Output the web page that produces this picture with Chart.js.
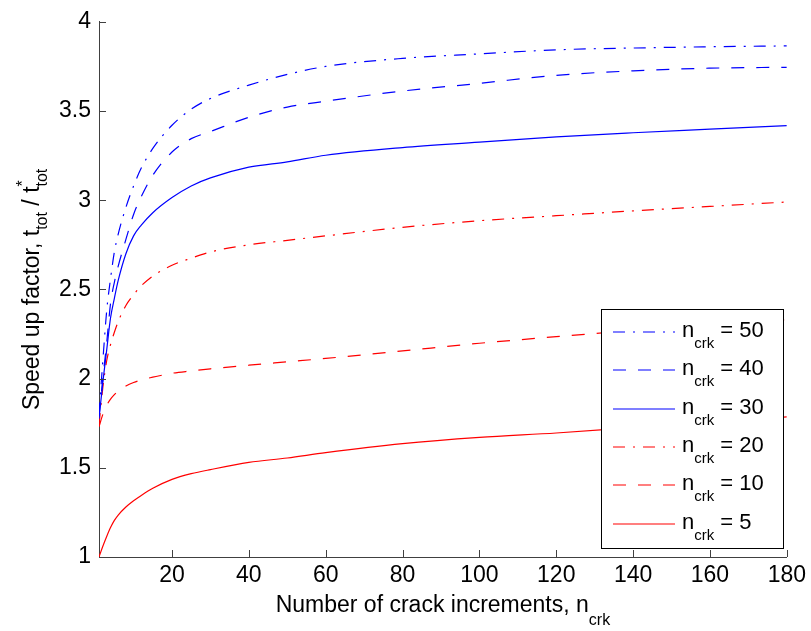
<!DOCTYPE html>
<html>
<head>
<meta charset="utf-8">
<script src="https://cdn.jsdelivr.net/npm/chart.js@4.4.1/dist/chart.umd.min.js"></script>
<style>
  body { margin: 0; background: #fff; }
  canvas { display: block; }
</style>
</head>
<body>
<canvas id="myChart" width="811" height="631"></canvas>
<script>
// data
const xVals = [1, 2, 3, 4, 5, 6, 8, 10, 12, 15, 20, 25, 30, 40, 50, 60, 80, 100, 120, 140, 160, 180];
const crk50 = [1.80, 2.10, 2.38, 2.56, 2.71, 2.81, 2.96, 3.08, 3.18, 3.29, 3.42, 3.51, 3.57, 3.645, 3.705, 3.75, 3.795, 3.82, 3.843, 3.853, 3.86, 3.865];
const crk40 = [1.79, 2.00, 2.20, 2.42, 2.54, 2.63, 2.78, 2.92, 3.02, 3.14, 3.27, 3.345, 3.385, 3.465, 3.522, 3.555, 3.612, 3.655, 3.70, 3.725, 3.74, 3.745];
const crk30 = [1.775, 1.98, 2.16, 2.34, 2.45, 2.55, 2.70, 2.80, 2.86, 2.93, 3.015, 3.08, 3.125, 3.185, 3.215, 3.252, 3.295, 3.325, 3.355, 3.378, 3.398, 3.418];
const crk20 = [1.74, 1.95, 2.10, 2.19, 2.26, 2.32, 2.41, 2.47, 2.52, 2.575, 2.635, 2.675, 2.71, 2.75, 2.775, 2.80, 2.848, 2.885, 2.913, 2.94, 2.965, 2.99];
const crk10 = [1.73, 1.80, 1.85, 1.885, 1.91, 1.93, 1.958, 1.978, 1.993, 2.008, 2.03, 2.043, 2.055, 2.075, 2.094, 2.113, 2.155, 2.198, 2.235, 2.27, 2.30, 2.33];
const crk5 = [1.0, 1.06, 1.115, 1.165, 1.205, 1.235, 1.28, 1.315, 1.345, 1.385, 1.435, 1.467, 1.49, 1.53, 1.555, 1.585, 1.635, 1.67, 1.695, 1.725, 1.755, 1.785];
const seriesNames = ['50', '40', '30', '20', '10', '5'];
const xTicks = [20, 40, 60, 80, 100, 120, 140, 160, 180];
const yTicks = [1, 1.5, 2, 2.5, 3, 3.5, 4];

const FONT = "'Liberation Sans', Arial, sans-serif";
const BLUE = '#0000ff';
const RED = '#ff0000';
const DASH = [13, 12];
const DASHDOT = [12, 8, 2, 8];
const seriesColors = [BLUE, BLUE, BLUE, RED, RED, RED];
const seriesDash = [DASHDOT, DASH, [], DASHDOT, DASH, []];

function toPoints(ys) {
  return xVals.map((x, i) => ({ x: x, y: ys[i] }));
}

function makeSet(i, ys) {
  return {
    label: seriesNames[i],
    data: toPoints(ys),
    borderColor: seriesColors[i],
    backgroundColor: seriesColors[i],
    borderWidth: 1.2,
    borderDash: seriesDash[i],
    pointRadius: 0,
    cubicInterpolationMode: 'monotone',
    fill: false
  };
}

// ticks inside the axes, axis titles with subscripts, and the legend box
const extras = {
  id: 'extras',
  afterDraw(chart) {
    const ctx = chart.ctx;
    const xs = chart.scales.x, ys = chart.scales.y;
    const area = chart.chartArea;
    ctx.save();
    ctx.strokeStyle = '#404040';
    ctx.lineWidth = 1;
    ctx.beginPath();
    xTicks.forEach(v => {
      const px = Math.round(xs.getPixelForValue(v)) + 0.5;
      ctx.moveTo(px, area.bottom);
      ctx.lineTo(px, area.bottom - 7);
    });
    yTicks.forEach(v => {
      const py = Math.round(ys.getPixelForValue(v)) + 0.5;
      ctx.moveTo(area.left, py);
      ctx.lineTo(area.left + 7, py);
    });
    ctx.stroke();

    ctx.fillStyle = '#000';
    ctx.textBaseline = 'alphabetic';
    ctx.textAlign = 'left';

    // x title
    ctx.font = '23px ' + FONT;
    const xt = 'Number of crack increments, n';
    const w1 = ctx.measureText(xt).width;
    ctx.font = '16px ' + FONT;
    const w2 = ctx.measureText('crk').width;
    let sx = (area.left + area.right) / 2 - (w1 + w2) / 2;
    ctx.font = '23px ' + FONT;
    ctx.fillText(xt, sx, 612);
    ctx.font = '16px ' + FONT;
    ctx.fillText('crk', sx + w1, 625);

    // y title, rotated
    ctx.save();
    ctx.rotate(-Math.PI / 2);
    ctx.font = '23px ' + FONT;
    const p1 = 'Speed up factor, t', p2 = ' / t';
    const a = ctx.measureText(p1).width, c = ctx.measureText(p2).width;
    ctx.font = '16px ' + FONT;
    const b = ctx.measureText('tot').width;
    const total = a + b + c + b;
    let u = -((area.top + area.bottom) / 2) - total / 2;
    ctx.font = '23px ' + FONT;
    ctx.fillText(p1, u, 39);
    u += a;
    ctx.font = '16px ' + FONT;
    ctx.fillText('tot', u, 47);
    u += b;
    ctx.font = '23px ' + FONT;
    ctx.fillText(p2, u, 39);
    u += c;
    ctx.font = '16px ' + FONT;
    ctx.fillText('*', u, 28);
    ctx.fillText('tot', u, 47);
    ctx.restore();

    // legend
    const bx = 601, by = 309, bw = 182, bh = 239;
    ctx.fillStyle = '#fff';
    ctx.fillRect(bx, by, bw, bh);
    ctx.strokeStyle = '#000';
    ctx.lineWidth = 1;
    ctx.strokeRect(bx + 0.5, by + 0.5, bw, bh);
    seriesNames.forEach((name, i) => {
      const ry = Math.round(332 + i * 38.3);
      ctx.strokeStyle = seriesColors[i];
      ctx.lineWidth = 1.2;
      ctx.setLineDash(seriesDash[i]);
      ctx.beginPath();
      ctx.moveTo(613, ry);
      ctx.lineTo(675, ry);
      ctx.stroke();
      ctx.setLineDash([]);
      ctx.fillStyle = '#000';
      ctx.font = '22px ' + FONT;
      ctx.fillText('n', 682, ry + 5);
      const nw = ctx.measureText('n').width;
      ctx.font = '15px ' + FONT;
      ctx.fillText('crk', 682 + nw, ry + 16);
      const cw = ctx.measureText('crk').width;
      ctx.font = '22px ' + FONT;
      ctx.fillText(' = ' + name, 682 + nw + cw, ry + 5);
    });
    ctx.restore();
  }
};

var ctx = document.getElementById('myChart');
var chart = new Chart(ctx, {
  type: 'line',
  data: {
    datasets: [
      makeSet(0, crk50),
      makeSet(1, crk40),
      makeSet(2, crk30),
      makeSet(3, crk20),
      makeSet(4, crk10),
      makeSet(5, crk5)
    ]
  },
  options: {
    responsive: false,
    animation: false,
    devicePixelRatio: 1,
    layout: { padding: { left: 0, top: 14, right: 22, bottom: 0 } },
    plugins: { legend: { display: false }, tooltip: { enabled: false } },
    scales: {
      x: {
        type: 'linear',
        min: 1,
        max: 180,
        grid: { display: false, drawTicks: false },
        border: { display: true, color: '#404040', width: 1 },
        ticks: { color: '#000', font: { family: FONT, size: 23 }, padding: 5, maxRotation: 0, autoSkip: false,
          callback: v => String(v) },
        afterBuildTicks: s => { s.ticks = xTicks.map(v => ({ value: v })); },
        afterFit: s => { s.height = 74; }
      },
      y: {
        type: 'linear',
        min: 1,
        max: 4,
        grid: { display: false, drawTicks: false },
        border: { display: true, color: '#404040', width: 1 },
        ticks: { color: '#000', font: { family: FONT, size: 23 }, padding: 8, autoSkip: false,
          callback: v => String(v) },
        afterBuildTicks: s => { s.ticks = yTicks.map(v => ({ value: v })); },
        afterFit: s => { s.width = 99; }
      }
    }
  },
  plugins: [extras]
});
</script>
</body>
</html>
